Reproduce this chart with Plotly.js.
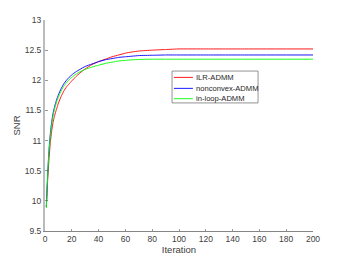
<!DOCTYPE html>
<html>
<head>
<meta charset="utf-8">
<script src="https://cdn.plot.ly/plotly-3.0.1.min.js"></script>
<style>html,body{margin:0;padding:0;background:#fff;}#chart{width:346px;height:260px;}</style>
</head>
<body>
<div id="chart"></div>
<script>
const iterations   = [1, 2, 3, 4, 5, 6, 7, 8, 9, 10, 12, 14, 16, 18, 20, 23, 26, 30, 35, 40, 45, 50, 55, 60, 65, 70, 80, 90, 100, 120, 150, 200];
const snrILR       = [9.90, 10.35, 10.70, 10.97, 11.16, 11.30, 11.40, 11.48, 11.55, 11.62, 11.73, 11.82, 11.89, 11.94, 11.99, 12.06, 12.12, 12.19, 12.26, 12.31, 12.35, 12.39, 12.42, 12.45, 12.47, 12.485, 12.50, 12.51, 12.52, 12.52, 12.52, 12.52];
const snrNonconvex = [9.90, 10.45, 10.85, 11.12, 11.31, 11.45, 11.55, 11.63, 11.70, 11.76, 11.86, 11.94, 12.00, 12.05, 12.09, 12.14, 12.18, 12.23, 12.27, 12.31, 12.34, 12.36, 12.38, 12.39, 12.40, 12.41, 12.415, 12.42, 12.42, 12.42, 12.42, 12.42];
const snrInLoop    = [9.88, 10.43, 10.82, 11.08, 11.27, 11.41, 11.51, 11.59, 11.66, 11.72, 11.82, 11.90, 11.96, 12.01, 12.05, 12.10, 12.14, 12.18, 12.22, 12.25, 12.28, 12.30, 12.32, 12.33, 12.34, 12.345, 12.35, 12.35, 12.35, 12.35, 12.35, 12.35];
const seriesNames  = ["ILR-ADMM", "nonconvex-ADMM", "in-loop-ADMM"];
const seriesColors = ["#ff0000", "#0000ff", "#00ff00"];
const xTicks = [0, 20, 40, 60, 80, 100, 120, 140, 160, 180, 200];
const yTicks = [9.5, 10, 10.5, 11, 11.5, 12, 12.5, 13];

const ys = [snrILR, snrNonconvex, snrInLoop];
const traces = ys.map((y, i) => ({
  x: iterations, y: y, type: "scatter", mode: "lines", name: seriesNames[i],
  line: {color: seriesColors[i], width: 0.9, shape: "spline", smoothing: 0.4},
  showlegend: false
}));

// Custom legend box (MATLAB-style compact legend)
const fam = "Liberation Sans, Arial, sans-serif";
const legX0 = 0.474, legX1 = 0.795, legY0 = 0.607, legY1 = 0.758;
const rowY = [0.728, 0.676, 0.627];
const shapes = [{type: "rect", xref: "paper", yref: "paper", x0: legX0, x1: legX1, y0: legY0, y1: legY1,
  line: {color: "#777", width: 0.8}, fillcolor: "#fff", layer: "above"}];
const annotations = [];
seriesNames.forEach((n, i) => {
  shapes.push({type: "line", xref: "paper", yref: "paper", x0: 0.481, x1: 0.552, y0: rowY[i], y1: rowY[i],
    line: {color: seriesColors[i], width: 0.9}, layer: "above"});
  annotations.push({xref: "paper", yref: "paper", x: 0.556, y: rowY[i], xanchor: "left", yanchor: "middle",
    text: n, showarrow: false, font: {family: fam, size: 7.6, color: "#262626"}});
});

const font = {family: fam, size: 8.5, color: "#404040"};
const layout = {
  width: 346, height: 260,
  margin: {l: 45, r: 33, t: 20, b: 29, pad: 0},
  paper_bgcolor: "#fff", plot_bgcolor: "#fff",
  font: font,
  showlegend: false,
  shapes: shapes, annotations: annotations,
  xaxis: {
    range: [0, 200], tickvals: xTicks, ticktext: xTicks.map(String),
    ticks: "inside", ticklen: 2.5, tickcolor: "#555", tickwidth: 0.6,
    showline: true, linecolor: "#666", linewidth: 0.8,
    showgrid: false, zeroline: false, mirror: false,
    title: {text: "Iteration", font: {family: fam, size: 9.5, color: "#404040"}, standoff: 3},
    tickfont: font
  },
  yaxis: {
    range: [9.5, 13], tickvals: yTicks, ticktext: yTicks.map(String),
    ticks: "inside", ticklen: 2.5, tickcolor: "#555", tickwidth: 0.6,
    showline: true, linecolor: "#bbbbbb", linewidth: 2,
    showgrid: false, zeroline: false, mirror: false,
    title: {text: "SNR", font: {family: fam, size: 9.5, color: "#404040"}, standoff: 2},
    tickfont: font
  }
};
Plotly.newPlot("chart", traces, layout, {staticPlot: true, displayModeBar: false});
</script>
</body>
</html>
